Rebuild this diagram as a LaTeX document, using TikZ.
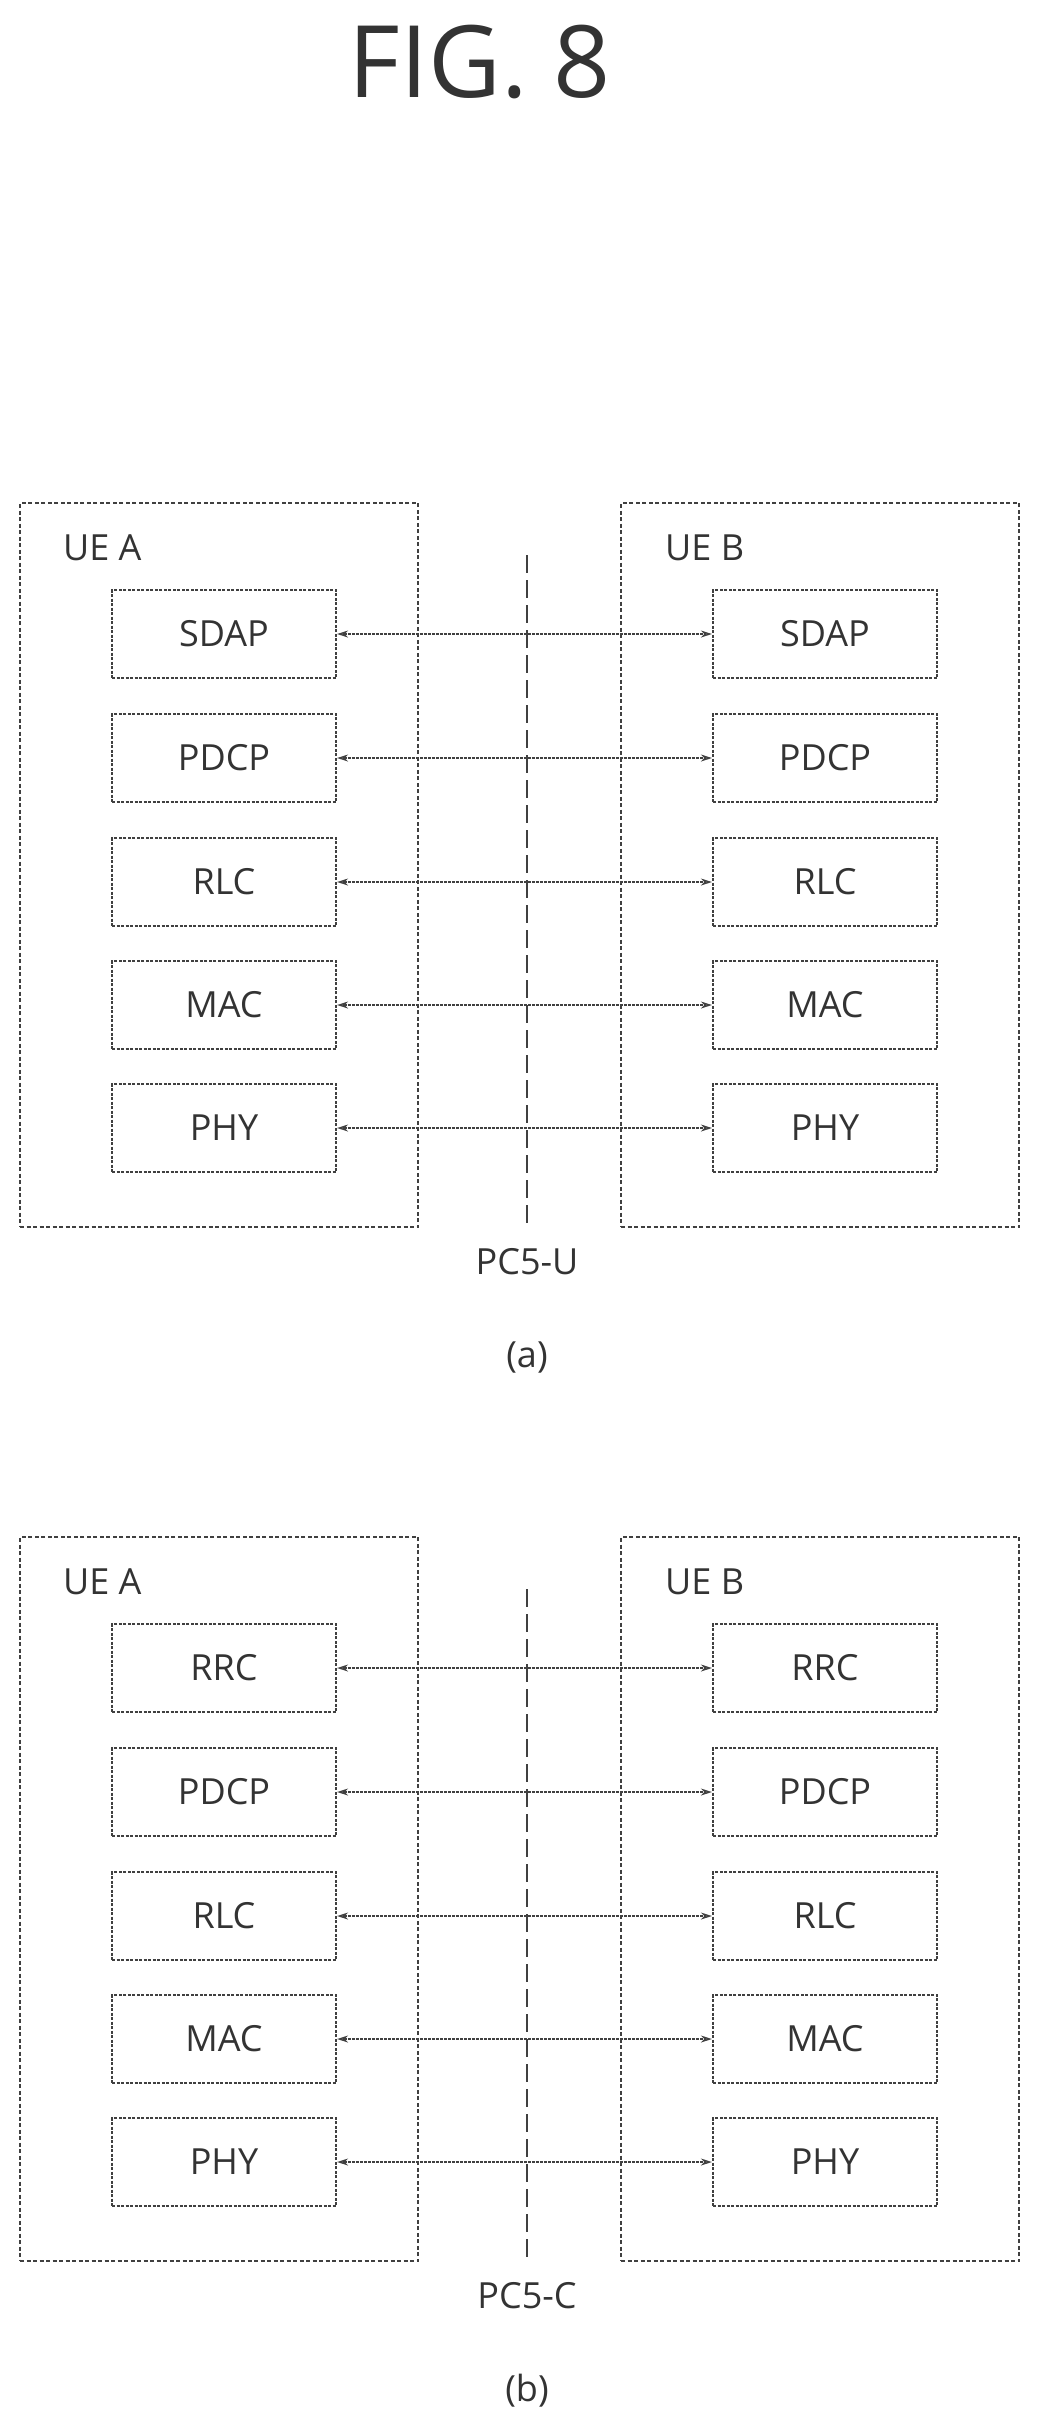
\documentclass[tikz,border=0pt]{standalone}
\usepackage{fontspec}
\setmainfont{Open Sans}
\usetikzlibrary{arrows.meta}
\begin{document}
\begin{tikzpicture}[x=1pt,y=-1pt,
  ue/.style={draw=black!75,line width=1.6pt,dash pattern=on 4pt off 2.5pt},
  layer/.style={draw=black!75,line width=2.2pt,dash pattern=on 3pt off 1.5pt,minimum width=224pt,minimum height=88pt,inner sep=0pt,font=\fontsize{36}{40}\selectfont,text=black!80},
  lbl/.style={font=\fontsize{36}{40}\selectfont,text=black!80,inner sep=0pt},
  link/.style={line width=1.3pt,black!75,dash pattern=on 3pt off 1pt,{Stealth[length=11pt,width=7pt,open]}-{Stealth[length=11pt,width=7pt,open]}},
  mid/.style={draw=black!75,line width=1.4pt,dash pattern=on 18pt off 7pt}]
\useasboundingbox (0,0) rectangle (1038,2421);
\node[lbl,font=\fontsize{100}{110}\selectfont] (title) at (480,62) {FIG. 8};
\foreach \part/\oy/\pc/\cap/\top in {a/0/U/(a)/SDAP, b/1034/C/(b)/RRC}{
  \begin{scope}[yshift=-\oy]
  \node[ue,minimum width=398pt,minimum height=724pt,inner sep=0pt] (A\part) at (219,865) {};
  \node[ue,minimum width=398pt,minimum height=724pt,inner sep=0pt] (B\part) at (820,865) {};
  \node[lbl,anchor=west] (la\part) at (63,548) {UE A};
  \node[lbl,anchor=west] (lb\part) at (665,548) {UE B};
  \coordinate (m1\part) at (527,555);
  \coordinate (m2\part) at (527,1227);
  \draw[mid] (m1\part) -- (m2\part);
  \node[lbl] (pc\part) at (527,1262) {PC5-\pc};
  \node[lbl] (cap\part) at (527,1357) {\cap};
  \foreach \n/\t/\y in {1/\top/634, 2/PDCP/758, 3/RLC/882, 4/MAC/1005, 5/PHY/1128}{
    \node[layer] (a\part\n) at (224,\y) {\t};
    \node[layer] (b\part\n) at (825,\y) {\t};
    \draw[link] (a\part\n) -- (b\part\n);
  }
  \end{scope}
}
\end{tikzpicture}
\end{document}
